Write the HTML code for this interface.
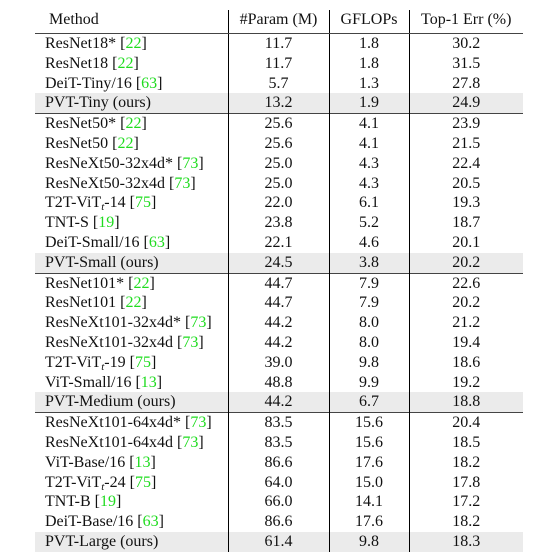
<!DOCTYPE html>
<html><head><meta charset="utf-8">
<style>
html,body{margin:0;padding:0;background:#fff;}
body{width:545px;height:557px;position:relative;overflow:hidden;font-family:"Liberation Serif",serif;font-size:16px;color:#111;}
table{position:absolute;left:35px;top:10px;border-collapse:collapse;table-layout:fixed;width:488px;}
td,th{padding:0;height:19.8px;line-height:19.8px;font-weight:normal;white-space:nowrap;}
th{height:23px;line-height:20px;vertical-align:top;padding-top:0;}
col.c1{width:193px}col.c2{width:101px}col.c3{width:80px}col.c4{width:114px}
.m{text-align:left;padding-left:10px;border-right:1px solid #000;}
th.m{padding-left:14px;}
.n{text-align:center;border-right:1px solid #000;}
.n:last-child{border-right:none;}
tr.hd th{border-bottom:1.5px solid #444;}
tr.ours td{background:#ebebeb;}
tr.sep td{border-top:1.5px solid #444;}
.g{color:#1fdc1f;}
sub{font-style:italic;font-size:11px;line-height:0;vertical-align:-3px;}
</style></head><body>
<table>
<colgroup><col class="c1"><col class="c2"><col class="c3"><col class="c4"></colgroup>
<tr class="hd"><th class="m">Method</th><th class="n">#Param (M)</th><th class="n">GFLOPs</th><th class="n">Top-1 Err (%)</th></tr>
<tr><td class="m">ResNet18* [<span class="g">22</span>]</td><td class="n">11.7</td><td class="n">1.8</td><td class="n">30.2</td></tr>
<tr><td class="m">ResNet18 [<span class="g">22</span>]</td><td class="n">11.7</td><td class="n">1.8</td><td class="n">31.5</td></tr>
<tr><td class="m">DeiT-Tiny/16 [<span class="g">63</span>]</td><td class="n">5.7</td><td class="n">1.3</td><td class="n">27.8</td></tr>
<tr class="ours"><td class="m">PVT-Tiny (ours)</td><td class="n">13.2</td><td class="n">1.9</td><td class="n">24.9</td></tr>
<tr class="sep"><td class="m">ResNet50* [<span class="g">22</span>]</td><td class="n">25.6</td><td class="n">4.1</td><td class="n">23.9</td></tr>
<tr><td class="m">ResNet50 [<span class="g">22</span>]</td><td class="n">25.6</td><td class="n">4.1</td><td class="n">21.5</td></tr>
<tr><td class="m">ResNeXt50-32x4d* [<span class="g">73</span>]</td><td class="n">25.0</td><td class="n">4.3</td><td class="n">22.4</td></tr>
<tr><td class="m">ResNeXt50-32x4d [<span class="g">73</span>]</td><td class="n">25.0</td><td class="n">4.3</td><td class="n">20.5</td></tr>
<tr><td class="m">T2T-ViT<sub>t</sub>-14 [<span class="g">75</span>]</td><td class="n">22.0</td><td class="n">6.1</td><td class="n">19.3</td></tr>
<tr><td class="m">TNT-S [<span class="g">19</span>]</td><td class="n">23.8</td><td class="n">5.2</td><td class="n">18.7</td></tr>
<tr><td class="m">DeiT-Small/16 [<span class="g">63</span>]</td><td class="n">22.1</td><td class="n">4.6</td><td class="n">20.1</td></tr>
<tr class="ours"><td class="m">PVT-Small (ours)</td><td class="n">24.5</td><td class="n">3.8</td><td class="n">20.2</td></tr>
<tr class="sep"><td class="m">ResNet101* [<span class="g">22</span>]</td><td class="n">44.7</td><td class="n">7.9</td><td class="n">22.6</td></tr>
<tr><td class="m">ResNet101 [<span class="g">22</span>]</td><td class="n">44.7</td><td class="n">7.9</td><td class="n">20.2</td></tr>
<tr><td class="m">ResNeXt101-32x4d* [<span class="g">73</span>]</td><td class="n">44.2</td><td class="n">8.0</td><td class="n">21.2</td></tr>
<tr><td class="m">ResNeXt101-32x4d [<span class="g">73</span>]</td><td class="n">44.2</td><td class="n">8.0</td><td class="n">19.4</td></tr>
<tr><td class="m">T2T-ViT<sub>t</sub>-19 [<span class="g">75</span>]</td><td class="n">39.0</td><td class="n">9.8</td><td class="n">18.6</td></tr>
<tr><td class="m">ViT-Small/16 [<span class="g">13</span>]</td><td class="n">48.8</td><td class="n">9.9</td><td class="n">19.2</td></tr>
<tr class="ours"><td class="m">PVT-Medium (ours)</td><td class="n">44.2</td><td class="n">6.7</td><td class="n">18.8</td></tr>
<tr class="sep"><td class="m">ResNeXt101-64x4d* [<span class="g">73</span>]</td><td class="n">83.5</td><td class="n">15.6</td><td class="n">20.4</td></tr>
<tr><td class="m">ResNeXt101-64x4d [<span class="g">73</span>]</td><td class="n">83.5</td><td class="n">15.6</td><td class="n">18.5</td></tr>
<tr><td class="m">ViT-Base/16 [<span class="g">13</span>]</td><td class="n">86.6</td><td class="n">17.6</td><td class="n">18.2</td></tr>
<tr><td class="m">T2T-ViT<sub>t</sub>-24 [<span class="g">75</span>]</td><td class="n">64.0</td><td class="n">15.0</td><td class="n">17.8</td></tr>
<tr><td class="m">TNT-B [<span class="g">19</span>]</td><td class="n">66.0</td><td class="n">14.1</td><td class="n">17.2</td></tr>
<tr><td class="m">DeiT-Base/16 [<span class="g">63</span>]</td><td class="n">86.6</td><td class="n">17.6</td><td class="n">18.2</td></tr>
<tr class="ours"><td class="m">PVT-Large (ours)</td><td class="n">61.4</td><td class="n">9.8</td><td class="n">18.3</td></tr>
</table>
</body></html>
